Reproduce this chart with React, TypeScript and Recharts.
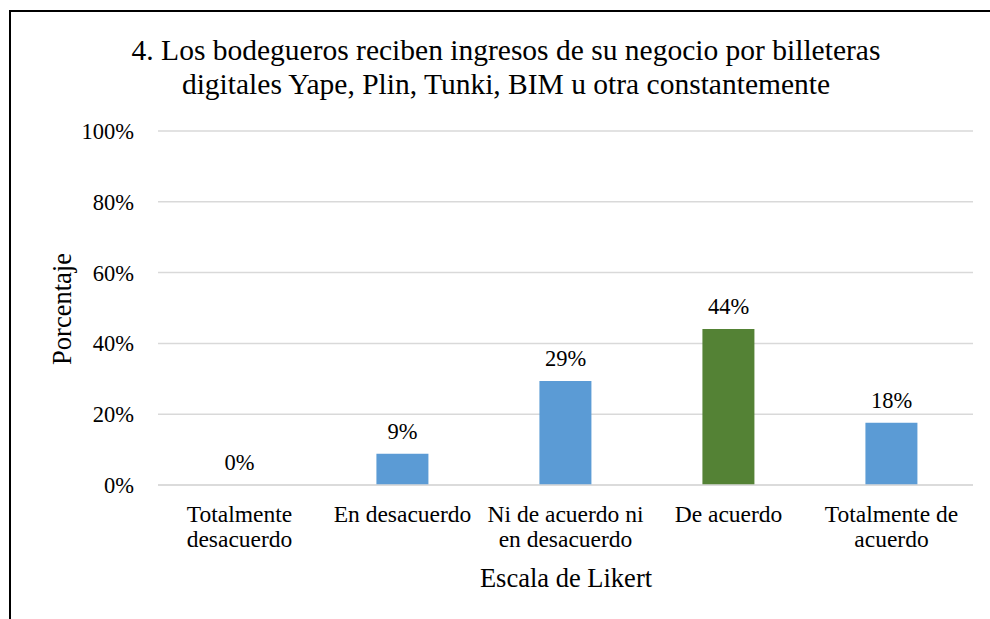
import { ComposedChart, Bar, Line, XAxis, YAxis, CartesianGrid, LabelList, Cell } from 'recharts';

const categories = [
    'Totalmente\ndesacuerdo',
    'En desacuerdo',
    'Ni de acuerdo ni\nen desacuerdo',
    'De acuerdo',
    'Totalmente de\nacuerdo',
];
const percentages = [0, 8.8, 29.4, 44.1, 17.6];
const yTicks = [0, 20, 40, 60, 80, 100];
const highlightIndex = 3;

const FONT = 'Liberation Serif, DejaVu Serif';
const BLUE = '#5B9BD5';
const GREEN = '#548235';

const data = categories.map((name, i) => ({ name, value: percentages[i] }));

function WrappedTick(props: any) {
    const { x, y, payload } = props;
    const lines = String(payload.value).split('\n');
    return (
        <text x={x} y={y} textAnchor="middle" fill="#000" fontSize={23.5} fontFamily={FONT}>
            {lines.map((line, i) => (
                <tspan key={i} x={x} dy={i === 0 ? 29 : 25}>
                    {line}
                </tspan>
            ))}
        </text>
    );
}

export default function App() {
    return (
        <div
            style={{
                position: 'absolute',
                left: 9,
                top: 10,
                width: 1000,
                height: 640,
                border: '2px solid #000',
                overflow: 'hidden',
                fontFamily: FONT,
                background: '#fff',
            }}
        >
            <div
                style={{
                    position: 'absolute',
                    left: 0,
                    top: 21,
                    width: 990,
                    textAlign: 'center',
                    fontSize: 29.5,
                    lineHeight: '34px',
                    color: '#000',
                    whiteSpace: 'nowrap',
                }}
            >
                4. Los bodegueros reciben ingresos de su negocio por billeteras
                <br />
                digitales Yape, Plin, Tunki, BIM u otra constantemente
            </div>
            <div
                style={{
                    position: 'absolute',
                    left: 51 - 80,
                    top: 297 - 16,
                    width: 160,
                    textAlign: 'center',
                    fontSize: 26.5,
                    lineHeight: '32px',
                    transform: 'rotate(-90deg)',
                    color: '#000',
                }}
            >
                Porcentaje
            </div>
            <div
                style={{
                    position: 'absolute',
                    left: 445,
                    top: 550,
                    width: 220,
                    textAlign: 'center',
                    fontSize: 26.5,
                    lineHeight: '32px',
                    color: '#000',
                }}
            >
                Escala de Likert
            </div>
            <ComposedChart
                width={990}
                height={620}
                data={data}
                margin={{ top: 119, right: 28, bottom: 47, left: 0 }}
                barCategoryGap="34%"
                style={{ position: 'absolute', left: 0, top: 0 }}
            >
                <CartesianGrid vertical={false} stroke="#D9D9D9" strokeWidth={1.5} />
                <XAxis
                    dataKey="name"
                    height={100}
                    axisLine={{ stroke: '#D9D9D9', strokeWidth: 1.5 }}
                    tickLine={false}
                    tick={<WrappedTick />}
                    interval={0}
                />
                <YAxis
                    width={147}
                    domain={[0, 100]}
                    ticks={yTicks}
                    tickFormatter={(v) => `${v}%`}
                    axisLine={false}
                    tickLine={false}
                    tickMargin={18}
                    tick={{ fill: '#000', fontSize: 22.5, fontFamily: FONT }}
                />
                <Bar dataKey="value" isAnimationActive={false}>
                    {data.map((_, i) => (
                        <Cell key={i} fill={i === highlightIndex ? GREEN : BLUE} />
                    ))}
                </Bar>
                {/* invisible line just to carry the value labels (zero bars get no label) */}
                <Line
                    dataKey="value"
                    stroke="none"
                    dot={false}
                    activeDot={false}
                    isAnimationActive={false}
                >
                    <LabelList
                        dataKey="value"
                        position="top"
                        offset={15}
                        formatter={(v: any) => `${Math.round(Number(v))}%`}
                        style={{ fill: '#000', fontSize: 22.5, fontFamily: FONT }}
                    />
                </Line>
            </ComposedChart>
        </div>
    );
}
